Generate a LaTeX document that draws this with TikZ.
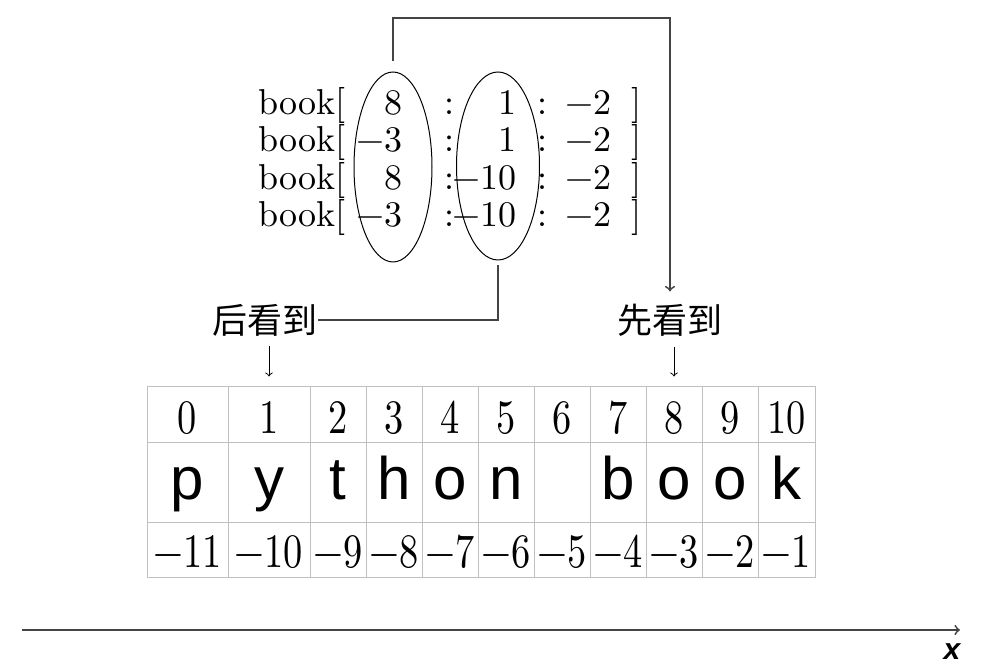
\documentclass[tikz,border=0pt]{standalone}
\usepackage{fontspec}
\usepackage{graphicx}
\usetikzlibrary{arrows,shapes.geometric}

\setmainfont{lmroman10-regular.otf}
\newfontfamily\cjk{Noto Sans CJK SC}
\newfontfamily\letterfont{Liberation Sans}
\definecolor{gridgray}{HTML}{C0C0C0}
\definecolor{linegray}{HTML}{444444}
\newcommand{\dg}[1]{\scalebox{0.8}[1]{#1}}

\tikzset{
  cell/.style={draw=gridgray, line width=0.5pt, inner sep=0pt},
  toprow/.style={cell, minimum height=28pt, text height=20pt, text depth=1pt, font=\fontsize{24}{24}\selectfont},
  midrow/.style={cell, minimum height=40pt, text height=20pt, text depth=3pt, font=\letterfont\fontsize{30}{30}\selectfont},
  lowrow/.style={cell, minimum height=27.5pt, text height=18.5pt, text depth=1pt, font=\fontsize{24}{24}\selectfont},
  code/.style={inner sep=0pt, font=\fontsize{18}{18}\selectfont},
  oval/.style={ellipse, draw, line width=0.5pt, inner sep=0pt},
  tag/.style={inner sep=0pt, font=\cjk\fontsize{17.5}{17.5}\selectfont},
  conn/.style={draw=linegray, line width=0.9pt},
  pointer/.style={->, line width=0.5pt}
}

\begin{document}
\begin{tikzpicture}[x=0.5pt,y=0.5pt]
  \useasboundingbox (0,0) rectangle (982,672);

  % slice expressions
  \foreach \r/\y/\a/\b in {1/557/8/1, 2/520/−3/1, 3/482/8/−10, 4/445/−3/−10} {
    \node[code, anchor=base west] (bk\r) at (258,\y) {book[};
    \node[code, anchor=base east] (st\r) at (403,\y) {\a};
    \node[code, anchor=base] (ca\r) at (450,\y) {:};
    \node[code, anchor=base east] (en\r) at (517,\y) {\b};
    \node[code, anchor=base] (cb\r) at (543,\y) {:};
    \node[code, anchor=base east] (sp\r) at (612,\y) {−2};
    \node[code, anchor=base] (cl\r) at (637,\y) {]};
  }
  \node[oval, minimum width=39pt, minimum height=95pt] (first) at (393,505) {};
  \node[oval, minimum width=41.5pt, minimum height=94pt] (second) at (498,506) {};

  % labels
  \node[tag] (later) at (265,352) {后看到};
  \node[tag] (sooner) at (670,352) {先看到};

  % string table
  \foreach \i/\xc/\w/\ch/\ng in {0/187.5/81/p/11, 1/269/82/y/10, 2/338/56/t/9,
      3/394/56/h/8, 4/450/56/o/7, 5/506/56/n/6, 6/562/56/{}/5, 7/618/56/b/4,
      8/674/56/o/3, 9/730/56/o/2, 10/786.5/57/k/1} {
    \node[toprow, minimum width=\w*0.5pt] (t\i) at (\xc,257) {\dg{\i}};
    \node[midrow, minimum width=\w*0.5pt] (m\i) at (\xc,189) {\ch};
    \node[lowrow, minimum width=\w*0.5pt] (n\i) at (\xc,121.5) {\dg{−\ng}};
  }

  % connectors
  \coordinate (bend) at (393,654);
  \draw[conn, ->, shorten <=5pt, shorten >=6pt] (first.north) -- (bend) -| (sooner.north);
  \draw[conn, shorten <=2.5pt] (second.south) |- (later.east);
  \draw[pointer, shorten <=5pt, shorten >=5pt] (later.south -| t1.north) -- (t1.north);
  \draw[pointer, shorten <=5pt, shorten >=5pt] (sooner.south -| t8.north) -- (t8.north);

  % axis
  \coordinate (origin) at (22,42);
  \coordinate (xend) at (960,42);
  \draw[conn, ->] (origin) -- (xend);
  \node[inner sep=0pt, font=\letterfont\bfseries\itshape\fontsize{15}{15}\selectfont] (xname) at (952,20) {x};
\end{tikzpicture}
\end{document}
